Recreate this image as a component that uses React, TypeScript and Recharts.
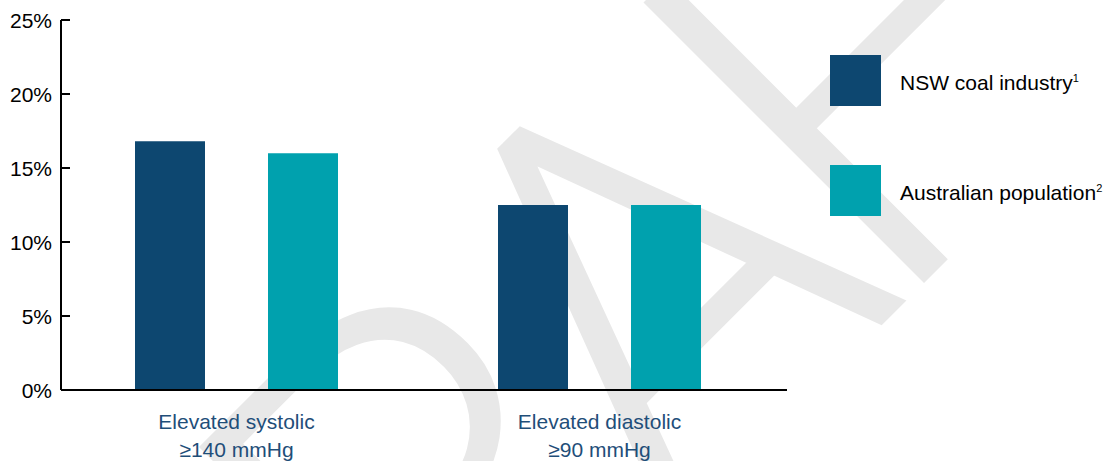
import React from 'react'
import { BarChart, Bar, XAxis, YAxis, Legend } from 'recharts'

const CATEGORIES = [
  ['Elevated systolic', '≥140 mmHg'],
  ['Elevated diastolic', '≥90 mmHg'],
]
const NSW_COAL = [16.8, 12.5]
const AUS_POP = [16.0, 12.5]
const Y_TICKS = [0, 5, 10, 15, 20, 25]

const SERIES = [
  { key: 'nsw', name: 'NSW coal industry', sup: '1', color: '#0D4770' },
  { key: 'aus', name: 'Australian population', sup: '2', color: '#00A1AE' },
]

const data = CATEGORIES.map((c, i) => ({ name: c.join('\n'), nsw: NSW_COAL[i], aus: AUS_POP[i] }))

const FONT = '"Liberation Sans", Arial, sans-serif'

const YTick = ({ x, y, payload }: any) => (
  <g>
    <line x1={x} x2={x + 9} y1={y} y2={y} stroke="#000" strokeWidth={2} />
    <text x={x - 9} y={y} dy="0.36em" textAnchor="end" fontSize={21} fill="#000">{payload.value}%</text>
  </g>
)

const XTick = ({ x, y, payload }: any) => {
  const lines = String(payload.value).split('\n')
  return (
    <text x={x} y={y} textAnchor="middle" fontSize={21} fill="#1F4E79">
      {lines.map((l, i) => <tspan key={i} x={x} dy={i === 0 ? 39 : 28}>{l}</tspan>)}
    </text>
  )
}

const LegendBox = () => (
  <div style={{ fontFamily: FONT, fontSize: 21, color: '#000' }}>
    {SERIES.map((s, i) => (
      <div key={s.key} style={{ display: 'flex', alignItems: 'center', height: 51, marginBottom: i === 0 ? 59 : 0 }}>
        <div style={{ width: 51, height: 51, background: s.color }} />
        <div style={{ marginLeft: 19, paddingTop: 4, whiteSpace: 'nowrap' }}>
          {s.name}<sup style={{ fontSize: 11 }}>{s.sup}</sup>
        </div>
      </div>
    ))}
  </div>
)

export default function App() {
  return (
    <div style={{ position: 'absolute', left: 0, top: 0, width: 1106, height: 461, background: '#fff', fontFamily: FONT }}>
      {/* draft watermark behind the chart */}
      <svg width={1106} height={461} style={{ position: 'absolute', left: 0, top: 0 }}>
        <text
          transform="translate(603.5 603.5) rotate(-45)"
          x="-590 -225 88 403 710"
          y={0}
          fontFamily="Roboto, sans-serif"
          fontWeight={300}
          fontSize={558}
          fill="#e8e8e8"
        >
          DRAFT
        </text>
      </svg>
      <div style={{ position: 'absolute', left: 0, top: 0 }}>
        <BarChart width={1106} height={461} data={data} margin={{ top: 20, right: 319, bottom: 0, left: 0 }} barSize={70} barGap={63}>
          <XAxis
            dataKey="name"
            height={71}
            padding={{ left: -6, right: 6 }}
            axisLine={{ stroke: '#000', strokeWidth: 2 }}
            tickLine={false}
            tickSize={0}
            tickMargin={0}
            interval={0}
            tick={<XTick />}
          />
          <YAxis
            width={61}
            domain={[0, 25]}
            ticks={Y_TICKS}
            axisLine={{ stroke: '#000', strokeWidth: 2 }}
            tickLine={false}
            tickSize={0}
            tickMargin={0}
            tick={<YTick />}
          />
          <Legend
            layout="horizontal"
            verticalAlign="middle"
            align="center"
            content={<LegendBox />}
            wrapperStyle={{ left: 830, top: 55, width: 'auto', height: 'auto' }}
          />
          {SERIES.map((s) => (
            <Bar key={s.key} dataKey={s.key} name={s.name} fill={s.color} isAnimationActive={false} />
          ))}
        </BarChart>
      </div>
    </div>
  )
}
